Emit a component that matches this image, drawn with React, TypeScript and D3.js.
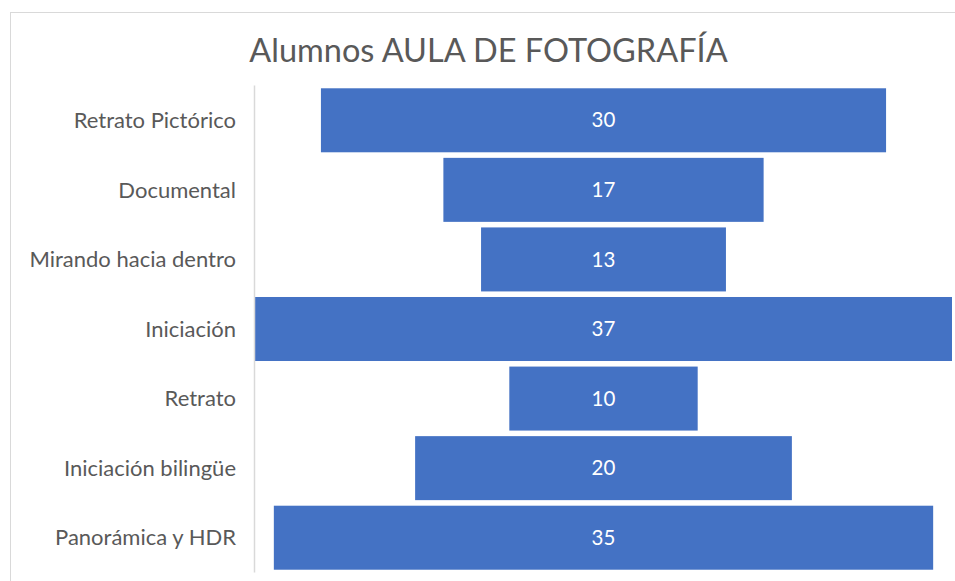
import React from "react";
import * as d3 from "d3";

const categories = [
  "Retrato Pictórico",
  "Documental",
  "Mirando hacia dentro",
  "Iniciación",
  "Retrato",
  "Iniciación bilingüe",
  "Panorámica y HDR",
];
const values = [30, 17, 13, 37, 10, 20, 35];
const title = "Alumnos AULA DE FOTOGRAFÍA";

const W = 955;
const H = 581;
const FONT = "Lato, 'Open Sans', sans-serif";

export default function App() {
  const y = d3
    .scaleBand<string>()
    .domain(categories)
    .range([85.5, 572.5])
    .paddingInner(0.08)
    .paddingOuter(0.04);
  const maxV = d3.max(values) as number;
  const w = d3.scaleLinear().domain([0, maxV]).range([0, 697]);
  const cx = 603.5;

  return (
    <svg
      width={W}
      height={H}
      style={{ position: "absolute", left: 0, top: 0, background: "#fff" }}
    >
      <rect x={10.5} y={12.5} width={1000} height={600} fill="#fff" stroke="#d9d9d9" strokeWidth={1} />
      <text
        x={488.5}
        y={62}
        textAnchor="middle"
        fontFamily={FONT}
        fontSize={32.5}
        fill="#595959"
      >
        {title}
      </text>
      {categories.map((c, i) => {
        const bw = w(values[i]);
        const yy = y(c) as number;
        const bh = y.bandwidth();
        return (
          <g key={c}>
            <rect x={cx - bw / 2} y={yy} width={bw} height={bh} fill="#4472C4" />
            <text
              x={cx}
              y={yy + bh / 2}
              dy="0.35em"
              textAnchor="middle"
              fontFamily={FONT}
              fontSize={20.5}
              fill="#ffffff"
            >
              {values[i]}
            </text>
            <text
              x={236}
              y={yy + bh / 2}
              dy="0.35em"
              textAnchor="end"
              fontFamily={FONT}
              fontSize={22}
              fill="#595959"
            >
              {c}
            </text>
          </g>
        );
      })}
      <line x1={254.5} x2={254.5} y1={85.5} y2={572.5} stroke="#d9d9d9" strokeWidth={1.5} />
    </svg>
  );
}
